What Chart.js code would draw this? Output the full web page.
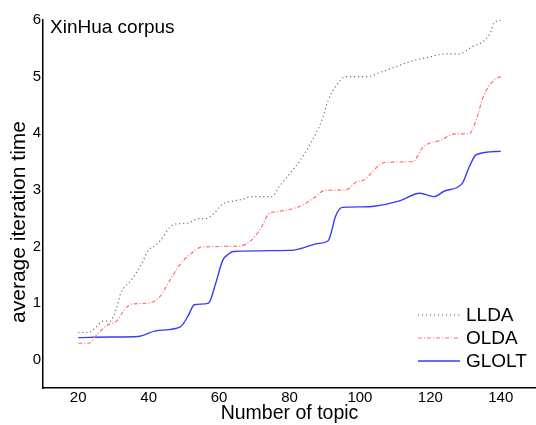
<!DOCTYPE html>
<html>
<head>
<meta charset="utf-8">
<script src="https://cdn.jsdelivr.net/npm/chart.js@4.4.1/dist/chart.umd.min.js"></script>
<style>
  html, body { margin: 0; padding: 0; background: #fff; }
  #wrap { width: 536px; height: 425px; position: relative; }
</style>
</head>
<body>
<div id="wrap"><canvas id="chart"></canvas></div>
<script>
const seriesNames = ["LLDA", "OLDA", "GLOLT"];
const xTicks = [20, 40, 60, 80, 100, 120, 140];
const yTicks = [0, 1, 2, 3, 4, 5, 6];

const lldaX = [20, 23, 25, 27, 29, 31, 32, 35, 38, 40, 42, 44, 46, 48, 51, 54, 56, 58, 61, 64, 67, 69, 75, 77, 80, 83, 86, 89, 91, 93, 96, 102, 106, 110, 114, 120, 124, 128, 132, 135, 137, 138, 140];
const lldaY = [0.48, 0.48, 0.57, 0.68, 0.68, 0.93, 1.16, 1.40, 1.69, 1.94, 2.02, 2.16, 2.34, 2.40, 2.41, 2.49, 2.49, 2.55, 2.75, 2.80, 2.84, 2.88, 2.88, 3.05, 3.28, 3.52, 3.82, 4.20, 4.58, 4.82, 5.00, 5.00, 5.08, 5.17, 5.26, 5.35, 5.40, 5.40, 5.53, 5.62, 5.77, 5.94, 6.00];

const oldaX = [20, 23, 25, 28, 31, 33, 35, 40, 43, 46, 49, 52, 55, 63, 65, 69, 72, 74, 77, 83, 87, 90, 96, 99, 101, 106, 108, 115, 118, 123, 127, 131, 133, 135, 138, 140];
const oldaY = [0.29, 0.29, 0.42, 0.60, 0.69, 0.87, 0.98, 1.00, 1.10, 1.40, 1.69, 1.87, 1.99, 2.00, 2.00, 2.10, 2.34, 2.57, 2.62, 2.71, 2.86, 2.99, 3.00, 3.14, 3.17, 3.46, 3.49, 3.50, 3.76, 3.88, 3.99, 3.99, 4.23, 4.64, 4.94, 5.00];

const glolX = [20, 29, 37, 42, 49, 51, 53, 57, 59, 61, 63, 64, 80, 83, 88, 91, 92, 93, 95, 100, 104, 111, 117, 121, 124, 129, 131, 133, 140];
const glolY = [0.39, 0.40, 0.41, 0.51, 0.58, 0.75, 0.97, 1.00, 1.34, 1.75, 1.88, 1.91, 1.93, 1.96, 2.05, 2.10, 2.28, 2.52, 2.69, 2.70, 2.71, 2.80, 2.94, 2.88, 2.98, 3.11, 3.40, 3.62, 3.68];

const toPoints = (xs, ys) => xs.map((x, i) => ({ x: x, y: ys[i] }));

const FONT = "'Liberation Sans', Arial, sans-serif";

// axis titles, corner label and legend drawn by hand to sit where the original has them
const decorations = {
    id: "decorations",
    afterDraw(chart) {
        const ctx = chart.ctx;
        const area = chart.chartArea;
        ctx.save();
        ctx.fillStyle = "#000";

        ctx.font = "19px " + FONT;
        ctx.textAlign = "left";
        ctx.textBaseline = "middle";
        ctx.fillText("XinHua corpus", 50, 28);

        ctx.font = "19.5px " + FONT;
        ctx.textAlign = "center";
        ctx.textBaseline = "middle";
        ctx.fillText("Number of topic", (area.left + area.right) / 2, 414);

        ctx.font = "21px " + FONT;
        ctx.translate(19, 222);
        ctx.rotate(-Math.PI / 2);
        ctx.fillText("average iteration time", 0, 0);
        ctx.restore();

        // legend
        ctx.save();
        ctx.font = "19px " + FONT;
        ctx.textAlign = "left";
        ctx.textBaseline = "middle";
        const rows = [315, 338, 361];
        chart.data.datasets.forEach((ds, i) => {
            const y = rows[i];
            ctx.strokeStyle = ds.borderColor;
            ctx.lineWidth = ds.borderWidth;
            ctx.setLineDash(ds.borderDash || []);
            ctx.beginPath();
            ctx.moveTo(418, y);
            ctx.lineTo(460, y);
            ctx.stroke();
            ctx.setLineDash([]);
            ctx.fillStyle = "#000";
            ctx.fillText(ds.label, 466, y + 1);
        });
        ctx.restore();
    }
};

new Chart(document.getElementById("chart"), {
    type: "line",
    data: {
        datasets: [
            {
                label: seriesNames[0],
                data: toPoints(lldaX, lldaY),
                borderColor: "#707070",
                borderWidth: 1.2,
                borderDash: [1.2, 2.8],
                pointRadius: 0,
                cubicInterpolationMode: "monotone",
            },
            {
                label: seriesNames[1],
                data: toPoints(oldaX, oldaY),
                borderColor: "#ff7070",
                borderWidth: 1.2,
                borderDash: [4, 2, 1, 2],
                pointRadius: 0,
                cubicInterpolationMode: "monotone",
            },
            {
                label: seriesNames[2],
                data: toPoints(glolX, glolY),
                borderColor: "#3a3aff",
                borderWidth: 1.4,
                pointRadius: 0,
                cubicInterpolationMode: "monotone",
            },
        ]
    },
    options: {
        responsive: true,
        maintainAspectRatio: false,
        animation: false,
        layout: { padding: { top: 20, right: 0, left: 0, bottom: 0 } },
        plugins: {
            legend: { display: false },
            tooltip: { enabled: false },
        },
        scales: {
            x: {
                type: "linear",
                min: 10,
                max: 150,
                afterBuildTicks: (scale) => { scale.ticks = xTicks.map(v => ({ value: v })); },
                afterFit: (scale) => { scale.height = 37; },
                grid: { display: false, drawTicks: false },
                border: { display: true, color: "#000", width: 1.5 },
                ticks: {
                    color: "#000",
                    font: { family: FONT, size: 15 },
                    padding: 1,
                    maxRotation: 0,
                    autoSkip: false,
                },
            },
            y: {
                min: -0.5,
                max: 6,
                afterBuildTicks: (scale) => { scale.ticks = yTicks.map(v => ({ value: v })); },
                afterFit: (scale) => { scale.width = 43; },
                grid: { display: false, drawTicks: false },
                border: { display: true, color: "#000", width: 1.5 },
                ticks: {
                    color: "#000",
                    font: { family: FONT, size: 15 },
                    padding: 2,
                },
            }
        }
    },
    plugins: [decorations]
});
</script>
</body>
</html>
